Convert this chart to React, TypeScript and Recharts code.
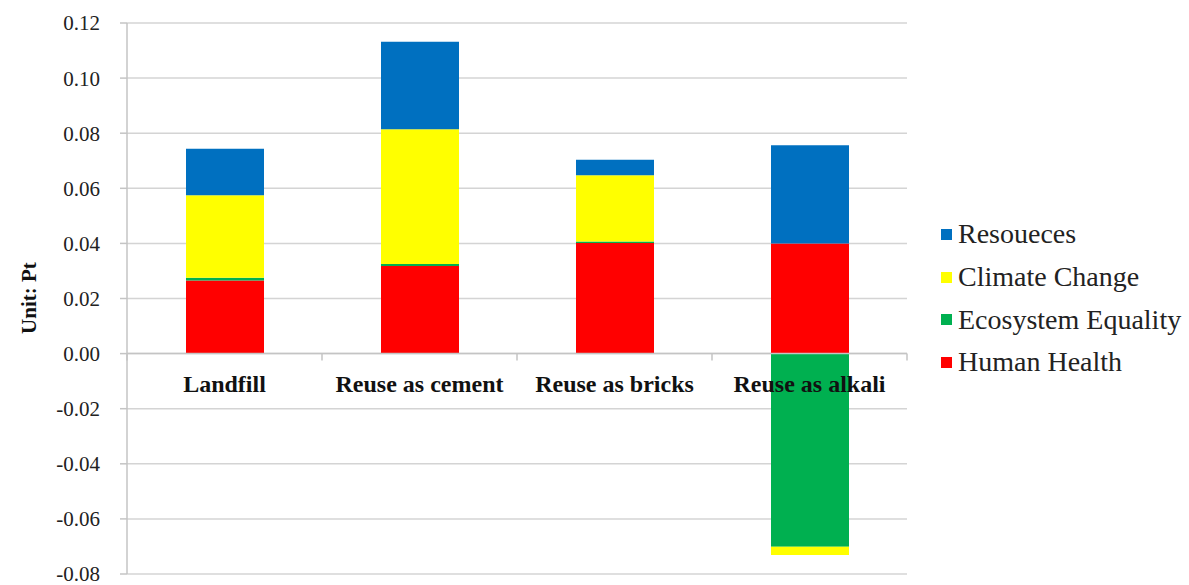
import React from "react";
import {
  BarChart,
  Bar,
  XAxis,
  YAxis,
  CartesianGrid,
  Legend,
  ReferenceLine,
} from "recharts";

const categories = ["Landfill", "Reuse as cement", "Reuse as bricks", "Reuse as alkali"];
const humanHealth = [0.0265, 0.0318, 0.0401, 0.04];
const ecosystemEquality = [0.001, 0.0007, 0.0006, -0.0701];
const climateChange = [0.03, 0.0489, 0.024, -0.003];
const resoueces = [0.0169, 0.0318, 0.0057, 0.0356];
const yTicks = [0.12, 0.1, 0.08, 0.06, 0.04, 0.02, 0, -0.02, -0.04, -0.06, -0.08];
const legendOrder = ["Resoueces", "Climate Change", "Ecosystem Equality", "Human Health"];

const W = 1189;
const H = 585;
const TOP = 23;
const BOTTOM = 11;
const AXIS_W = 127;
const LEGEND_W = 282;
const Y_MIN = -0.08;
const Y_MAX = 0.12;
const PLOT_H = H - TOP - BOTTOM;
const PLOT_W = W - AXIS_W - LEGEND_W;
const ZERO_Y = TOP + (PLOT_H * Y_MAX) / (Y_MAX - Y_MIN);
const BAND = PLOT_W / categories.length;

const SERIF = "Liberation Serif, Times New Roman, DejaVu Serif, Noto Serif, serif";
const AXIS_GRAY = "#c4c4c4";

const data = categories.map((name, i) => ({
  name,
  hh: humanHealth[i],
  eq: ecosystemEquality[i],
  cc: climateChange[i],
  res: resoueces[i],
}));

// category labels sit under the zero line, like the Excel original
function CategoryTick(props: any) {
  const { x, payload, index } = props;
  const left = x - BAND / 2;
  return (
    <g>
      <line x1={left} x2={left} y1={ZERO_Y} y2={ZERO_Y + 7} stroke={AXIS_GRAY} strokeWidth={1.5} />
      {index === categories.length - 1 && (
        <line x1={left + BAND} x2={left + BAND} y1={ZERO_Y} y2={ZERO_Y + 7} stroke={AXIS_GRAY} strokeWidth={1.5} />
      )}
      <text
        x={x}
        y={ZERO_Y + 38}
        textAnchor="middle"
        style={{ fontFamily: SERIF }}
        fontWeight="bold"
        fontSize={24}
        fill="#111"
      >
        {payload.value}
      </text>
    </g>
  );
}

function renderLegend(props: any) {
  const items = [...(props.payload || [])].sort(
    (a: any, b: any) => legendOrder.indexOf(a.value) - legendOrder.indexOf(b.value)
  );
  return (
    <ul style={{ listStyle: "none", margin: 0, padding: "0 0 0 34px" }}>
      {items.map((e: any) => (
        <li
          key={e.value}
          style={{
            display: "flex",
            alignItems: "center",
            height: 42.7,
            fontFamily: SERIF,
            fontSize: 28,
            color: "#222",
            whiteSpace: "nowrap",
          }}
        >
          <span style={{ width: 11, height: 11, background: e.color, marginRight: 6, flex: "none" }} />
          {e.value}
        </li>
      ))}
    </ul>
  );
}

export default function App() {
  return (
    <div
      style={{
        position: "absolute",
        left: 0,
        top: 0,
        width: W,
        height: H,
        background: "#fff",
        fontFamily: SERIF,
      }}
    >
      <BarChart
        width={W}
        height={H}
        data={data}
        stackOffset="sign"
        margin={{ top: TOP, right: 0, bottom: BOTTOM - 1, left: 0 }}
        style={{ fontFamily: SERIF }}
      >
        <CartesianGrid vertical={false} stroke="#d4d4d4" strokeWidth={1.5} />
        <XAxis
          dataKey="name"
          axisLine={false}
          tickLine={false}
          height={1}
          interval={0}
          tick={<CategoryTick />}
        />
        <YAxis
          width={AXIS_W}
          domain={[Y_MIN, Y_MAX]}
          ticks={yTicks}
          interval={0}
          tickFormatter={(v: number) => v.toFixed(2)}
          axisLine={{ stroke: AXIS_GRAY, strokeWidth: 1.5 }}
          tickLine={{ stroke: AXIS_GRAY, strokeWidth: 1.5 }}
          tickSize={7}
          tickMargin={20}
          tick={{ fontFamily: SERIF, fontSize: 21, fill: "#222", style: { fontFamily: SERIF } }}
          label={{
            content: () => (
              <text
                x={29}
                y={298}
                transform="rotate(-90 29 298)"
                textAnchor="middle"
                dominantBaseline="central"
                style={{ fontFamily: SERIF }}
                fontWeight="bold"
                fontSize={21}
                fill="#111"
              >
                Unit: Pt
              </text>
            ),
          }}
        />
        <ReferenceLine y={0} stroke={AXIS_GRAY} strokeWidth={1.5} />
        <Legend
          layout="vertical"
          align="right"
          verticalAlign="top"
          content={renderLegend}
          wrapperStyle={{ top: 213, right: 0, width: LEGEND_W }}
        />
        <Bar dataKey="hh" name="Human Health" stackId="a" fill="#ff0000" barSize={78} isAnimationActive={false} />
        <Bar dataKey="eq" name="Ecosystem Equality" stackId="a" fill="#00b050" barSize={78} isAnimationActive={false} />
        <Bar dataKey="cc" name="Climate Change" stackId="a" fill="#ffff00" barSize={78} isAnimationActive={false} />
        <Bar dataKey="res" name="Resoueces" stackId="a" fill="#0070c0" barSize={78} isAnimationActive={false} />
      </BarChart>
    </div>
  );
}
